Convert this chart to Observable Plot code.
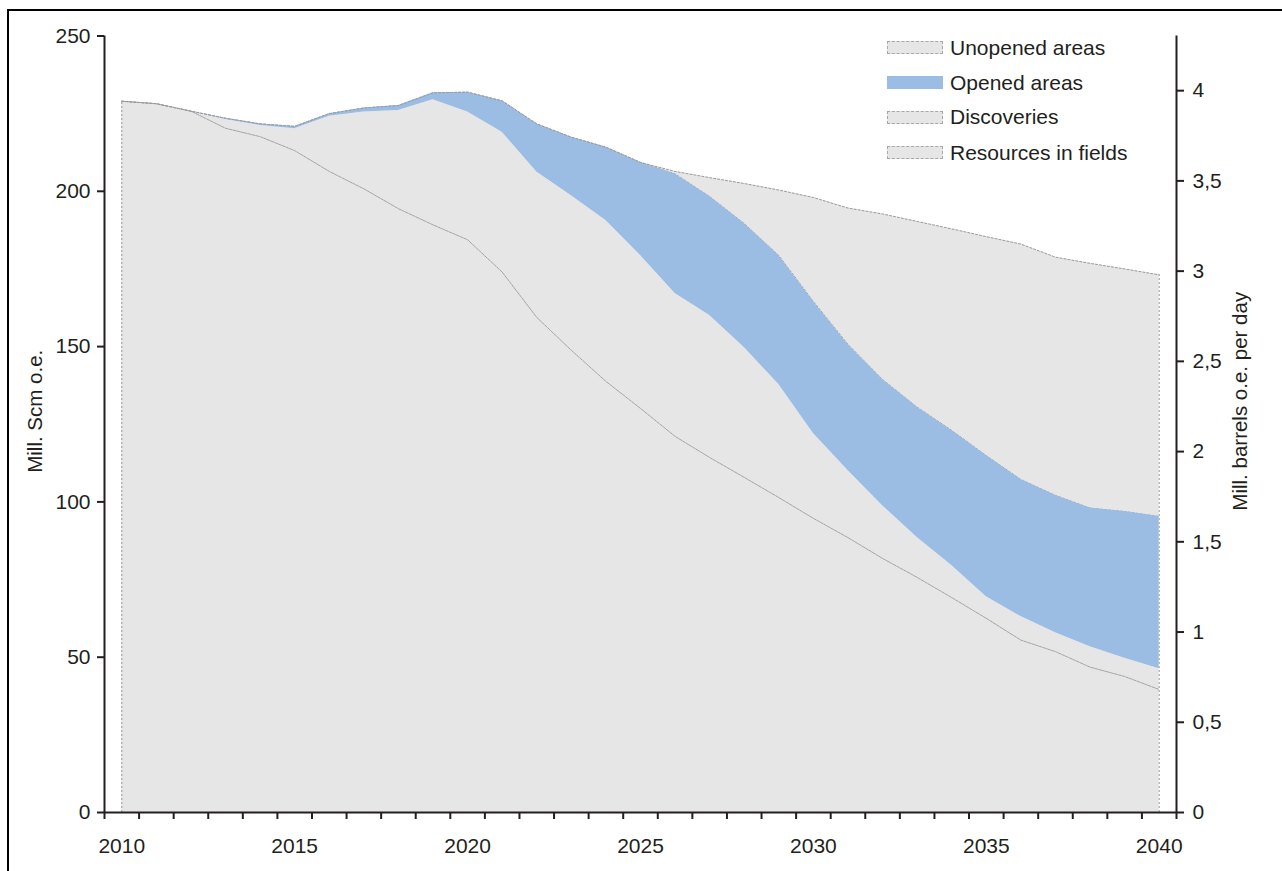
<!DOCTYPE html>
<html>
<head>
<meta charset="utf-8">
<script src="https://cdn.jsdelivr.net/npm/d3@7"></script>
<script src="https://cdn.jsdelivr.net/npm/@observablehq/plot@0.6"></script>
<style>
  html, body { margin: 0; padding: 0; background: #fff; overflow: hidden; }
  #wrap { position: relative; width: 1282px; height: 871px; font-family: "Liberation Sans", Arial, sans-serif; color: #231f20; }
  #frame { position: absolute; left: 7px; top: 9px; width: 1290px; height: 880px; border-left: 2px solid #000; border-top: 2px solid #000; pointer-events: none; }
  .lg-item { position: absolute; left: 887px; height: 20px; display: flex; align-items: center; }
  .sw { width: 56px; height: 13px; box-sizing: border-box; margin-right: 7px; }
  .sw.gray { background: #e6e6e6; border: 1px dashed #a8a8a8; }
  .sw.blue { background: #9bbce3; }
  .lg-text { font-size: 21px; white-space: nowrap; }
</style>
</head>
<body>
<div id="wrap"><div id="frame"></div></div>
<script>
// Years (one category per year)
const years = [2010,2011,2012,2013,2014,2015,2016,2017,2018,2019,2020,2021,2022,2023,2024,2025,
               2026,2027,2028,2029,2030,2031,2032,2033,2034,2035,2036,2037,2038,2039,2040];

// Mill. Scm o.e. per year, by category (stacked bottom -> top)
const fields      = [229.0,228.2,225.8,220.3,217.6,213.1,206.4,200.8,194.4,189.2,184.4,174.0,159.4,148.8,138.8,130.1,
                     121.1,114.3,107.9,101.4,94.7,88.5,81.8,75.7,69.2,62.5,55.5,51.8,46.8,43.8,39.6];
const discoveries = [0,0,0,2.8,3.6,7.0,17.8,24.7,31.6,40.3,41.1,45.0,46.8,49.8,51.8,49.2,
                     46.0,45.7,41.8,36.4,27.3,21.6,17.0,12.8,10.3,7.0,7.6,6.1,6.6,5.9,6.7];
const opened      = [0,0,0,0.4,0.5,0.8,0.8,1.3,1.6,2.2,6.4,10.1,15.5,18.8,23.6,30.0,
                     38.5,38.3,39.9,41.5,42.5,40.6,40.6,42.0,43.5,45.4,44.1,44.2,44.6,47.2,49.0];
const unopened    = [0,0,0,0,0,0,0,0,0,0,0,0,0,0,0,0,
                     0.8,6.1,12.9,21.1,33.5,43.9,53.3,59.8,64.9,70.5,75.8,76.7,78.8,78.1,77.8];

const leftTicks  = [0,50,100,150,200,250];
const rightTicks = [0,0.5,1,1.5,2,2.5,3,3.5,4];
const xLabelTicks = [2010,2015,2020,2025,2030,2035,2040];
const legendItems = [
  {label: "Unopened areas", kind: "gray"},
  {label: "Opened areas", kind: "blue"},
  {label: "Discoveries", kind: "gray"},
  {label: "Resources in fields", kind: "gray"}
];

const K = 58.1; // Mill. Scm o.e. per year per Mill. barrels o.e. per day

const rows = years.map((year, i) => {
  const c1 = fields[i];
  const c2 = c1 + discoveries[i];
  const c3 = c2 + opened[i];
  const c4 = c3 + unopened[i];
  return {year, c1, c2, c3, c4};
});
const first = rows[0], last = rows[rows.length - 1];

const GRAY = "#e6e6e6", BLUE = "#9bbce3", EDGE = "#9a9a9a", INK = "#231f20";
const dash = {stroke: EDGE, strokeWidth: 1, strokeDasharray: "2,2"};
const fmtComma = v => String(Math.round(v * 10) / 10).replace(".", ",");

const chart = Plot.plot({
  width: 1282,
  height: 871,
  marginLeft: 104,
  marginRight: 106,
  marginTop: 35.5,
  marginBottom: 59,
  style: {fontFamily: "'Liberation Sans', Arial, sans-serif", fontSize: "21px", color: INK, background: "transparent"},
  x: {domain: [2009.5, 2040.5]},
  y: {domain: [0, 250]},
  marks: [
    Plot.areaY(rows, {x: "year", y1: 0, y2: "c1", fill: GRAY}),
    Plot.areaY(rows, {x: "year", y1: "c1", y2: "c2", fill: GRAY}),
    Plot.areaY(rows, {x: "year", y1: "c3", y2: "c4", fill: GRAY}),
    Plot.lineY(rows, {x: "year", y: "c1", stroke: "#a3a3a3", strokeWidth: 1, strokeDasharray: "3,1"}),
    Plot.lineY(rows, {x: "year", y: "c3", ...dash}),
    Plot.ruleX([first], {x: "year", y1: 0, y2: "c4", ...dash}),
    Plot.ruleX([last], {x: "year", y1: 0, y2: "c4", ...dash}),
    Plot.areaY(rows, {x: "year", y1: "c2", y2: "c3", fill: BLUE}),
    Plot.lineY(rows, {x: "year", y: "c4", ...dash}),
    // axis lines
    Plot.ruleX([2009.5, 2040.5], {y1: 0, y2: 250, stroke: INK, strokeWidth: 2}),
    Plot.ruleY([0], {x1: 2009.5, x2: 2040.5, stroke: INK, strokeWidth: 2}),
    // x axis: ticks at year boundaries, labels at year centres
    Plot.axisX({ticks: d3.range(2009.5, 2041, 1), tickSize: 7, tickFormat: () => "", stroke: INK, strokeWidth: 2, label: null}),
    Plot.axisX({ticks: xLabelTicks, tickSize: 0, tickPadding: 26, tickFormat: d => String(d), label: null, fontSize: 21}),
    // left axis
    Plot.axisY({anchor: "left", ticks: leftTicks, tickSize: 7, tickPadding: 7, stroke: INK, strokeWidth: 2, label: null, fontSize: 21}),
    // right axis (Mill. barrels o.e. per day)
    Plot.axisY({anchor: "right", ticks: rightTicks.map(v => v * K), tickFormat: v => fmtComma(v / K), tickSize: 7, tickPadding: 9, stroke: INK, strokeWidth: 2, label: null, fontSize: 21}),
    // axis titles
    Plot.text(["Mill. Scm o.e."], {frameAnchor: "left", textAnchor: "middle", dx: -69, dy: -13, rotate: -90, fontSize: 20.5, fill: INK}),
    Plot.text(["Mill. barrels o.e. per day"], {frameAnchor: "right", textAnchor: "middle", dx: 64, dy: -23, rotate: -90, fontSize: 20.5, fill: INK})
  ]
});

const wrap = document.getElementById("wrap");
chart.style.position = "absolute";
chart.style.left = "0px";
chart.style.top = "0px";
wrap.insertBefore(chart, wrap.firstChild);

const rowCenters = [47.5, 82.5, 117, 152.5];
legendItems.forEach((it, i) => {
  const d = document.createElement("div");
  d.className = "lg-item";
  d.style.top = (rowCenters[i] - 10) + "px";
  const sw = document.createElement("div");
  sw.className = "sw " + it.kind;
  const t = document.createElement("span");
  t.className = "lg-text";
  t.textContent = it.label;
  d.appendChild(sw);
  d.appendChild(t);
  wrap.appendChild(d);
});
</script>
</body>
</html>
